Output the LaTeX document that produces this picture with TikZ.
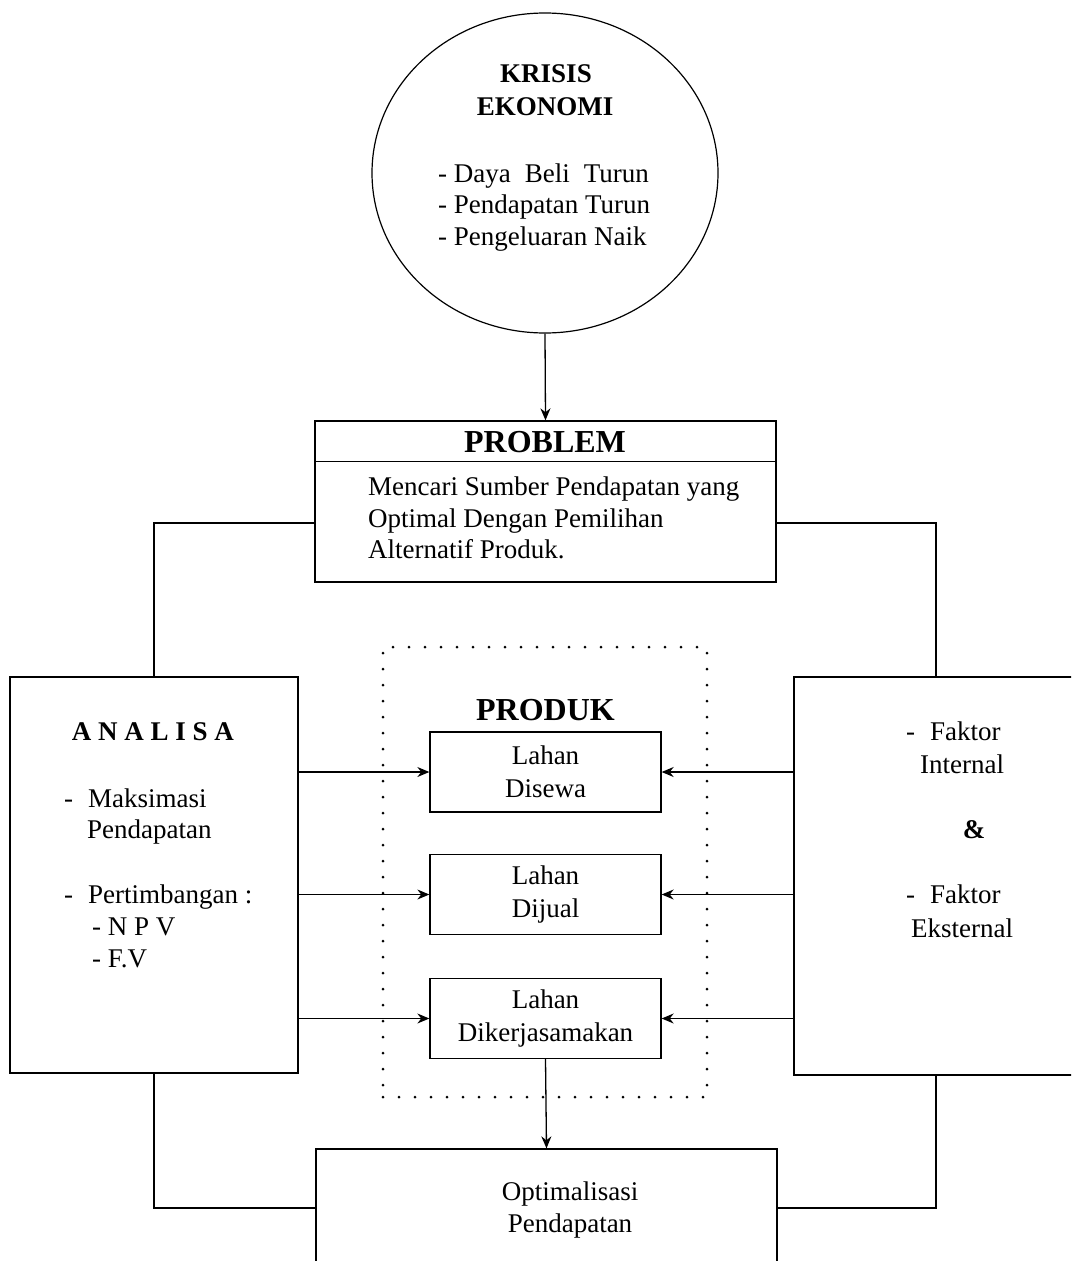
\documentclass[tikz,border=0pt]{standalone}
\usepackage{fontspec}
\setmainfont{Liberation Serif}
\usetikzlibrary{arrows.meta,shapes.geometric}
\begin{document}
\begin{tikzpicture}[x=1pt,y=-1pt,
  line/.style={line width=1.3pt},
  box/.style={draw, line width=1.3pt, inner sep=0pt},
  lahan/.style={box, minimum width=231pt, minimum height=80pt, align=center, font=\fontsize{27}{33}\selectfont},
  txt/.style={inner sep=0pt, font=\fontsize{27}{32}\selectfont},
  hd/.style={inner sep=0pt, font=\bfseries\fontsize{27}{32}\selectfont},
  ttl/.style={inner sep=0pt, font=\bfseries\fontsize{32}{36}\selectfont},
  arr/.style={line width=1.3pt, -{Stealth[length=12pt,width=10pt]}},
  dotbox/.style={draw, line width=3pt, line cap=round, dash pattern=on 0pt off 16pt, inner sep=0pt}]
\useasboundingbox (0,0) rectangle (1071,1261);
\clip (0,0) rectangle (1071,1261);

% Krisis ekonomi
\node[draw, ellipse, line width=1.2pt, minimum width=346pt, minimum height=320pt, inner sep=0pt] (krisis) at (545,173) {};
\node[hd, anchor=base] (k1) at (546,82) {KRISIS};
\node[hd, anchor=base] (k2) at (545,115) {EKONOMI};
\node[txt, anchor=base west] (k3) at (438,182) {- Daya\hspace{14pt}Beli\hspace{14pt}Turun};
\node[txt, anchor=base west] (k4) at (438,213) {- Pendapatan Turun};
\node[txt, anchor=base west] (k5) at (438,245) {- Pengeluaran Naik};

% Problem
\node[box, minimum width=461pt, minimum height=161pt] (problem) at (545.5,501.5) {};
\draw[line] ([yshift=-41pt]problem.north west) -- ([yshift=-41pt]problem.north east);
\node[ttl, anchor=base] (ptitle) at (545,452) {PROBLEM};
\node[txt, anchor=base west] (p1) at (368,495) {Mencari Sumber Pendapatan yang};
\node[txt, anchor=base west] (p2) at (368,527) {Optimal Dengan Pemilihan};
\node[txt, anchor=base west] (p3) at (368,558) {Alternatif Produk.};
\draw[arr] (krisis.south) -- (problem.north);

% Analisa and Faktor
\node[box, minimum width=288pt, minimum height=396pt] (analisa) at (154,875) {};
\node[box, minimum width=284pt, minimum height=398pt] (faktor) at (936,876) {};
\draw[line] ([yshift=-21.5pt]problem.west) -| (analisa.north);
\draw[line] ([yshift=-21.5pt]problem.east) -| (faktor.north);

\node[hd, anchor=base] (a0) at (153,740) {A N A L I S A};
\node[txt, anchor=base west] (a1) at (64,807) {-\hspace{15pt}Maksimasi};
\node[txt, anchor=base west] (a2) at (87,838) {Pendapatan};
\node[txt, anchor=base west] (a3) at (64,903) {-\hspace{15pt}Pertimbangan :};
\node[txt, anchor=base west] (a4) at (92,935) {- N P V};
\node[txt, anchor=base west] (a5) at (92,967) {- F.V};

\node[txt, anchor=base west] (f1) at (906,740) {-\hspace{15pt}Faktor};
\node[txt, anchor=base west] (f2) at (920,773) {Internal};
\node[hd, anchor=base] (f3) at (974,838) {\&};
\node[txt, anchor=base west] (f4) at (906,903) {-\hspace{15pt}Faktor};
\node[txt, anchor=base west] (f5) at (911,937) {Eksternal};

% Produk group
\node[dotbox, minimum width=324pt, minimum height=450pt] (grp) at (545,872) {};
\node[ttl, anchor=base] (prod) at (545.5,720) {PRODUK};
\node[lahan] (sewa) at (545.5,772) {Lahan\\Disewa};
\node[lahan] (jual) at (545.5,894.5) {Lahan\\Dijual};
\node[lahan] (kerja) at (545.5,1018.5) {Lahan\\Dikerjasamakan};

\draw[arr] (analisa.east |- sewa.west) -- (sewa.west);
\draw[arr] (analisa.east |- jual.west) -- (jual.west);
\draw[arr] (analisa.east |- kerja.west) -- (kerja.west);
\draw[arr] (faktor.west |- sewa.east) -- (sewa.east);
\draw[arr] (faktor.west |- jual.east) -- (jual.east);
\draw[arr] (faktor.west |- kerja.east) -- (kerja.east);

% Optimalisasi
\node[box, minimum width=461pt, minimum height=118pt] (optim) at (546.5,1208) {};
\node[txt, anchor=base] (o1) at (570,1200) {Optimalisasi};
\node[txt, anchor=base] (o2) at (570,1232) {Pendapatan};
\draw[arr] (kerja.south) -- (optim.north);
\draw[line] (analisa.south) |- (optim.west);
\draw[line] (faktor.south) |- (optim.east);
\end{tikzpicture}
\end{document}
